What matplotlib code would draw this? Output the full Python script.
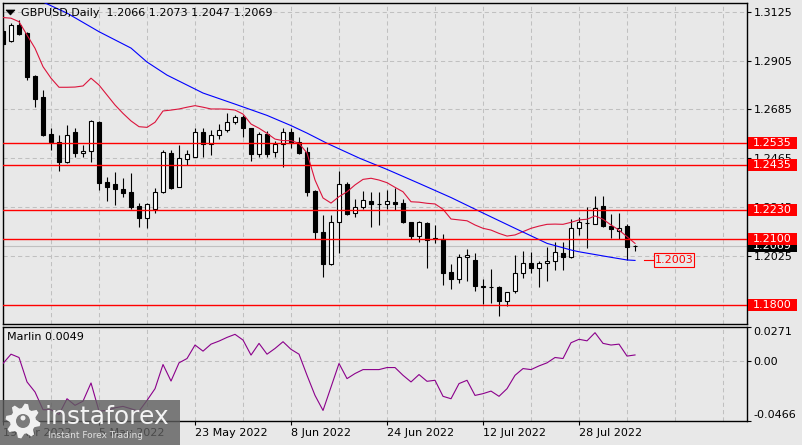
import numpy as np
import matplotlib.pyplot as plt
from matplotlib.patches import Rectangle, Polygon, Ellipse
from matplotlib.transforms import Affine2D, blended_transform_factory

W, H = 803, 445
BG = '#e8e8e8'
GRID = '#c0c0c0'

# ---- data ----
date_labels = ['19 Apr 2022', '5 May 2022', '23 May 2022', '8 Jun 2022',
               '24 Jun 2022', '12 Jul 2022', '28 Jul 2022']
date_idx = [0, 12, 24, 36, 48, 60, 72]

opens = [1.3040, 1.2995, 1.3066, 1.3032, 1.2836, 1.2741, 1.2574, 1.2539, 1.2449, 1.2583,
         1.2488, 1.2497, 1.2628, 1.2357, 1.2348, 1.2324, 1.2311, 1.2249, 1.2193, 1.2234,
         1.2313, 1.2487, 1.2333, 1.2460, 1.2471, 1.2582, 1.2527, 1.2569, 1.2592, 1.2627,
         1.2652, 1.2600, 1.2482, 1.2574, 1.2491, 1.2527, 1.2584, 1.2539, 1.2494, 1.2317,
         1.2130, 1.1987, 1.2175, 1.2348, 1.2216, 1.2246, 1.2271, 1.2259, 1.2256, 1.2265,
         1.2264, 1.2175, 1.2113, 1.2173, 1.2103, 1.2098, 1.1949, 1.1918, 1.2017, 1.2005,
         1.1884, 1.1882, 1.1882, 1.1820, 1.1865, 1.1945, 1.1990, 1.1967, 1.1990, 1.2000,
         1.2038, 1.2020, 1.2151, 1.2170, 1.2166, 1.2249, 1.2160, 1.2137, 1.2158, 1.2066]
highs = [1.3055, 1.3074, 1.3089, 1.3036, 1.2840, 1.2773, 1.2601, 1.2569, 1.2615, 1.2601,
         1.2524, 1.2637, 1.2633, 1.2381, 1.2404, 1.2375, 1.2398, 1.2264, 1.2264, 1.2330,
         1.2502, 1.2502, 1.2524, 1.2502, 1.2600, 1.2601, 1.2592, 1.2619, 1.2667, 1.2660,
         1.2660, 1.2601, 1.2584, 1.2589, 1.2544, 1.2601, 1.2600, 1.2562, 1.2517, 1.2321,
         1.2208, 1.2208, 1.2408, 1.2359, 1.2280, 1.2317, 1.2313, 1.2313, 1.2321, 1.2329,
         1.2279, 1.2178, 1.2182, 1.2178, 1.2163, 1.2122, 1.1987, 1.2032, 1.2053, 1.2035,
         1.1918, 1.1964, 1.1887, 1.1862, 1.2027, 1.2047, 1.2040, 1.2000, 1.2065, 1.2088,
         1.2088, 1.2189, 1.2200, 1.2246, 1.2295, 1.2295, 1.2211, 1.2216, 1.2166, 1.2073]
lows = [1.2971, 1.2991, 1.3021, 1.2818, 1.2697, 1.2565, 1.2502, 1.2408, 1.2444, 1.2470,
        1.2470, 1.2449, 1.2321, 1.2273, 1.2253, 1.2289, 1.2235, 1.2155, 1.2149, 1.2217,
        1.2309, 1.2324, 1.2333, 1.2434, 1.2469, 1.2470, 1.2479, 1.2550, 1.2584, 1.2619,
        1.2562, 1.2453, 1.2469, 1.2471, 1.2471, 1.2426, 1.2509, 1.2484, 1.2295, 1.2100,
        1.1929, 1.1982, 1.2038, 1.2208, 1.2199, 1.2235, 1.2155, 1.2163, 1.2235, 1.2231,
        1.2171, 1.2098, 1.2088, 1.1970, 1.2080, 1.1892, 1.1873, 1.1902, 1.1911, 1.1865,
        1.1805, 1.1811, 1.1753, 1.1797, 1.1854, 1.1922, 1.1947, 1.1884, 1.1911, 1.1960,
        1.1960, 1.2013, 1.2118, 1.2058, 1.2166, 1.2155, 1.2103, 1.2098, 1.2005, 1.2047]
closes = [1.2980, 1.3066, 1.3026, 1.2830, 1.2734, 1.2569, 1.2539, 1.2449, 1.2569, 1.2488,
          1.2497, 1.2633, 1.2354, 1.2336, 1.2326, 1.2309, 1.2246, 1.2193, 1.2258, 1.2313,
          1.2491, 1.2329, 1.2464, 1.2484, 1.2582, 1.2527, 1.2569, 1.2592, 1.2627, 1.2649,
          1.2600, 1.2482, 1.2574, 1.2484, 1.2527, 1.2584, 1.2532, 1.2487, 1.2311, 1.2130,
          1.1987, 1.2175, 1.2348, 1.2213, 1.2246, 1.2276, 1.2256, 1.2256, 1.2271, 1.2259,
          1.2178, 1.2113, 1.2175, 1.2095, 1.2098, 1.1947, 1.1918, 1.2020, 1.2027, 1.1887,
          1.1886, 1.1883, 1.1820, 1.1859, 1.1945, 1.1990, 1.1967, 1.1990, 1.2000, 1.2040,
          1.2020, 1.2151, 1.2175, 1.2172, 1.2241, 1.2160, 1.2144, 1.2151, 1.2065, 1.2069]

# red (fast) moving average, one value per bar
red_ma = [1.3100, 1.3097, 1.3081, 1.3021, 1.2961, 1.2878, 1.2826, 1.2785, 1.2785, 1.2786,
          1.2791, 1.2826, 1.2795, 1.2750, 1.2705, 1.2667, 1.2633, 1.2607, 1.2604, 1.2627,
          1.2678, 1.2682, 1.2687, 1.2695, 1.2702, 1.2695, 1.2687, 1.2687, 1.2686, 1.2682,
          1.2664, 1.2619, 1.2600, 1.2577, 1.2551, 1.2544, 1.2544, 1.2532, 1.2488, 1.2366,
          1.2285, 1.2262, 1.2291, 1.2313, 1.2344, 1.2369, 1.2374, 1.2366, 1.2354, 1.2333,
          1.2313, 1.2268, 1.2266, 1.2261, 1.2258, 1.2234, 1.2190, 1.2186, 1.2182, 1.2163,
          1.2148, 1.2140, 1.2125, 1.2113, 1.2118, 1.2133, 1.2148, 1.2158, 1.2166, 1.2167,
          1.2166, 1.2175, 1.2186, 1.2189, 1.2204, 1.2189, 1.2163, 1.2140, 1.2110, 1.2080]

# blue (slow) moving average, read at these bars
blue_idx = [3, 5, 8, 12, 16, 18, 20.5, 25, 29, 33, 36, 38, 40.5, 44.6, 48, 52, 56, 60,
            64, 68, 71, 72, 76, 78, 79]
blue_ma = [1.3206, 1.3170, 1.3120, 1.3036, 1.2962, 1.2899, 1.2840, 1.2759, 1.2709, 1.2658,
           1.2612, 1.2578, 1.2532, 1.2464, 1.2414, 1.2351, 1.2287, 1.2217, 1.2148, 1.2080,
           1.2050, 1.2042, 1.2017, 1.2005, 1.2003]

marlin = [-0.0018, 0.0055, 0.0029, -0.0163, -0.0242, -0.0381, -0.0381, -0.0419, -0.0295, -0.0347,
          -0.0314, -0.0171, -0.0393, -0.0387, -0.0366, -0.0355, -0.0374, -0.0393, -0.0308, -0.0216,
          -0.0026, -0.0156, -0.0013, 0.0021, 0.0127, 0.0079, 0.0134, 0.0158, 0.0187, 0.0211,
          0.0166, 0.0048, 0.0140, 0.0055, 0.0100, 0.0153, 0.0093, 0.0055, -0.0111, -0.0269,
          -0.0387, -0.0203, -0.0018, -0.0137, -0.0097, -0.0066, -0.0066, -0.0066, -0.0050, -0.0050,
          -0.0111, -0.0163, -0.0105, -0.0158, -0.0150, -0.0276, -0.0295, -0.0176, -0.0150, -0.0269,
          -0.0255, -0.0235, -0.0276, -0.0216, -0.0111, -0.0058, -0.0066, -0.0037, -0.0013, 0.0029,
          0.0021, 0.0145, 0.0172, 0.0160, 0.0224, 0.0140, 0.0127, 0.0134, 0.0040, 0.0049]

levels = [1.2535, 1.2435, 1.2230, 1.2100, 1.1800]
price_ticks = [1.3125, 1.2905, 1.2685, 1.2465, 1.2245, 1.2025]
marlin_ticks = [0.0271, 0.0, -0.0466]
last_price = 1.2069
blue_last = 1.2003

# ---- figure ----
plt.rcParams['font.family'] = 'DejaVu Sans'
plt.rcParams['font.size'] = 8
fig = plt.figure(figsize=(W / 100, H / 100), dpi=100, facecolor=BG)
pxT = Affine2D().scale(1.0 / W, -1.0 / H).translate(0, 1) + fig.transFigure

ax = fig.add_axes([2.7 / W, 1 - 324 / H, 744 / W, 321.3 / H], facecolor=BG)
ax2 = fig.add_axes([2.7 / W, 1 - 420.5 / H, 744 / W, 93.8 / H], facecolor=BG)
xlim = (-0.04, 92.96)

for a in (ax, ax2):
    a.set_xlim(*xlim)
    for s in a.spines.values():
        s.set_color('black')
        s.set_linewidth(1.0)
    for gi in range(0, 93, 6):
        a.axvline(gi, color=GRID, lw=0.75, ls=(0, (4, 3)), zorder=0.5)

# main price panel
ax.set_ylim(1.17158, 1.31670)
ax.yaxis.tick_right()
ax.set_yticks(price_ticks)
ax.set_yticklabels(['%.4f' % v for v in price_ticks])
ax.tick_params(axis='y', length=3, width=0.8, pad=2, labelsize=8)
ax.set_xticks([])
for v in price_ticks:
    ax.axhline(v, color=GRID, lw=0.75, ls=(0, (4, 3)), zorder=0.5)
ax.axhline(last_price, color='#c0c0c0', lw=0.8, zorder=1)

x = np.arange(len(opens))
o, h, l, c = map(np.array, (opens, highs, lows, closes))
up = c >= o
ax.vlines(x, l, h, color='black', lw=0.8, zorder=2)
ax.bar(x[up], c[up] - o[up], bottom=o[up], width=0.52, color='white',
       edgecolor='black', linewidth=0.8, zorder=3)
ax.bar(x[~up], c[~up] - o[~up], bottom=o[~up], width=0.52, color='black',
       edgecolor='black', linewidth=0.8, zorder=3)

ax.plot(x, red_ma, color='#dc143c', lw=0.8, zorder=4)
ax.plot(blue_idx, blue_ma, color='#0000ff', lw=0.8, zorder=4)

for lv in levels:
    ax.axhline(lv, color='#ff0000', lw=1.0, zorder=5)

# price boxes on the right scale
bt = blended_transform_factory(pxT, ax.transData)
box_h = 12 / 2214.0


def price_box(val, face, fg, z):
    ax.add_patch(Rectangle((747.7, val - box_h / 2), 49, box_h, transform=bt,
                           facecolor=face, edgecolor=face, lw=0, clip_on=False, zorder=z))
    ax.text(753, val, '%.4f' % val, transform=bt, color=fg, fontsize=8,
            ha='left', va='center', clip_on=False, zorder=z + 0.1)


price_box(last_price, 'black', 'white', 6)
for lv in levels:
    price_box(lv, '#ff0000', 'white', 7)

# blue MA value tag
ax.plot([644, 653], [blue_last, blue_last], transform=bt, color='#ff0000', lw=0.8,
        clip_on=False, zorder=6)
ax.add_patch(Rectangle((654, blue_last - 0.0032), 40, 0.0064, transform=bt,
                       facecolor=BG, edgecolor='#ff0000', lw=0.8, zorder=6))
ax.text(674, blue_last, '%.4f' % blue_last, transform=bt, color='#ff0000',
        fontsize=8, ha='center', va='center', zorder=7)

# Marlin panel
ax2.set_ylim(-0.0466, 0.0271)
ax2.yaxis.tick_right()
ax2.set_yticks(marlin_ticks)
ax2.set_yticklabels(['0.0271', '0.00', '-0.0466'])
ylabs = ax2.get_yticklabels()
ylabs[0].set_va('top')
ylabs[2].set_va('bottom')
ax2.tick_params(axis='y', length=3, width=0.8, pad=2, labelsize=8)
ax2.axhline(0, color=GRID, lw=0.75, ls=(0, (4, 3)), zorder=0.5)
ax2.set_xticks(date_idx)
ax2.set_xticklabels(date_labels, ha='left')
ax2.tick_params(axis='x', length=3, width=0.8, pad=2.5, labelsize=8)
ax2.plot(np.arange(len(marlin)), marlin, color='#8b008b', lw=0.8, zorder=3)

# header texts
fig.text(21, 12.5, 'GBPUSD,Daily  1.2066 1.2073 1.2047 1.2069', transform=pxT,
         fontsize=8, ha='left', va='center')
fig.add_artist(Polygon([(6, 10), (15, 10), (10.5, 15)], closed=True, transform=pxT,
                       facecolor='black', edgecolor='black', lw=0.5))
fig.text(7, 337, 'Marlin 0.0049', transform=pxT, fontsize=8, ha='left', va='center')

# watermark
fig.add_artist(Rectangle((0, 400), 180, 45, transform=pxT, facecolor='#5e5e5e',
                         edgecolor='none', alpha=0.8, zorder=10))
ang = np.linspace(0, 2 * np.pi, 33)[:-1]
rad = np.where((np.arange(32) % 4) < 2, 17.5, 13.0)
gear = list(zip(23 + rad * np.cos(ang + 0.1), 421 + rad * np.sin(ang + 0.1)))
fig.add_artist(Polygon(gear, closed=True, transform=pxT, facecolor='#f0f0f0',
                       edgecolor='none', zorder=11))
fig.add_artist(Ellipse((23, 421), 14, 14, transform=pxT, facecolor='#7a7a7a',
                       edgecolor='none', zorder=12))
fig.add_artist(Ellipse((23, 418), 5, 5, transform=pxT, facecolor='#f0f0f0',
                       edgecolor='none', zorder=13))
fig.text(45, 417, 'instaforex', transform=pxT, fontsize=18, color='#f4f4f4',
         ha='left', va='center', zorder=12)
fig.text(48, 436, 'Instant Forex Trading', transform=pxT, fontsize=6.5,
         color='#e0e0e0', ha='left', va='center', zorder=12)

fig.savefig('out.png', dpi=100, facecolor=BG)
